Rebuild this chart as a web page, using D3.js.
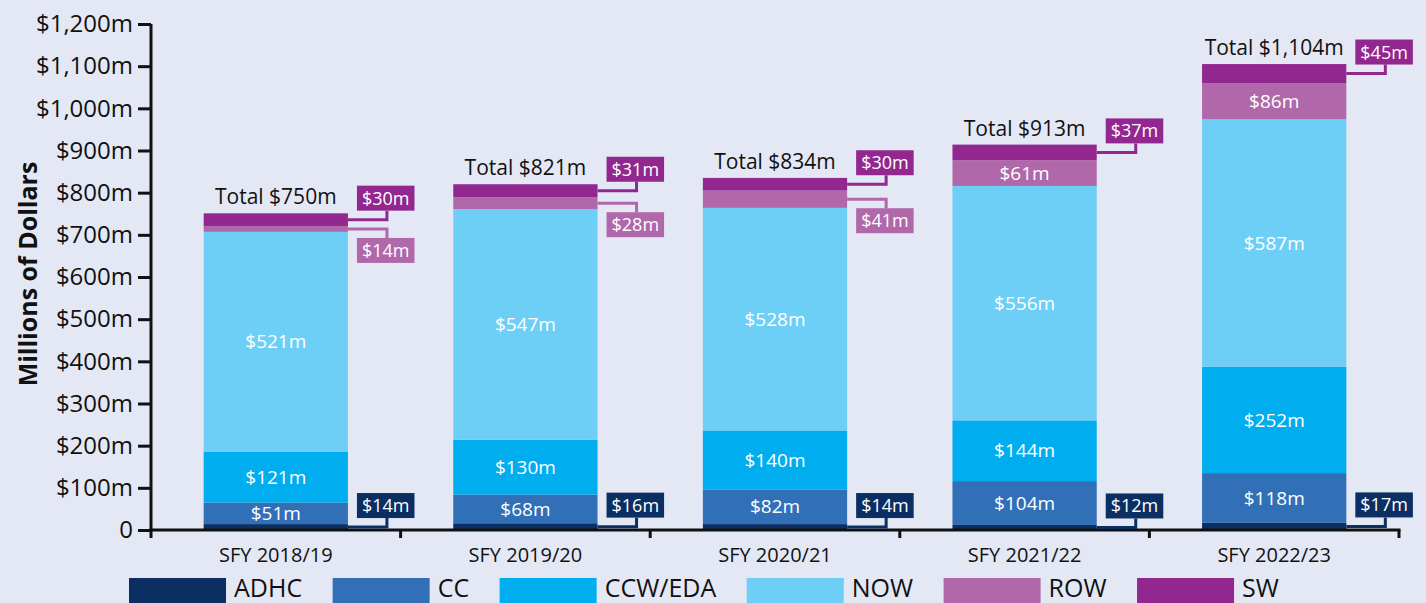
<!DOCTYPE html>
<html>
<head>
<meta charset="utf-8">
<script src="https://cdn.jsdelivr.net/npm/d3@7"></script>
<style>
  body { margin: 0; background: #e4e8f5; }
  svg { display: block; font-family: "Open Sans", "Noto Sans", sans-serif; }
</style>
</head>
<body>
<svg id="chart" width="1426" height="603"></svg>
<script>
// chart data ($ millions)
var years = ["SFY 2018/19", "SFY 2019/20", "SFY 2020/21", "SFY 2021/22", "SFY 2022/23"];
var seriesNames = ["ADHC", "CC", "CCW/EDA", "NOW", "ROW", "SW"];
var adhc = [14, 16, 14, 12, 17];
var cc = [51, 68, 82, 104, 118];
var ccw = [121, 130, 140, 144, 252];
var now = [521, 547, 528, 556, 587];
var row = [14, 28, 41, 61, 86];
var sw = [30, 31, 30, 37, 45];
var totals = [750, 821, 834, 913, 1104];
var yTicks = [0, 100, 200, 300, 400, 500, 600, 700, 800, 900, 1000, 1100, 1200];

var colors = ["#0b2e63", "#3170b7", "#00aeef", "#6dcff6", "#b168aa", "#92278f"];

// build the table for d3.stack
var table = years.map(function(y, i) {
    return {year: y, "ADHC": adhc[i], "CC": cc[i], "CCW/EDA": ccw[i], "NOW": now[i], "ROW": row[i], "SW": sw[i]};
});

var svg = d3.select("#chart");

var x = d3.scaleBand().domain(years).range([151, 1399]).paddingInner(0.422).paddingOuter(0.211);
var y = d3.scaleLinear().domain([0, 1200]).range([530, 24]);

var stacked = d3.stack().keys(seriesNames)(table);

function money(v) {
    return "$" + d3.format(",")(v) + "m";
}

//Bars
var layers = svg.append("g").selectAll("g")
    .data(stacked)
    .join("g")
    .attr("fill", function(d, i) { return colors[i]; });

layers.selectAll("rect")
    .data(function(d) { return d; })
    .join("rect")
    .attr("x", function(d) { return x(d.data.year); })
    .attr("width", x.bandwidth())
    .attr("y", function(d) { return y(d[1]); })
    .attr("height", function(d) { return y(d[0]) - y(d[1]); });

//Axes
var yAxis = svg.append("g")
    .attr("transform", "translate(151,0)")
    .call(d3.axisLeft(y).tickValues(yTicks).tickSize(13).tickPadding(5)
        .tickFormat(function(d) { return d === 0 ? "0" : money(d); }));
yAxis.select(".domain").attr("stroke", "#111").attr("stroke-width", 3).attr("d", "M0," + (y(0) + 1.5) + "V" + y(1200));
yAxis.selectAll(".tick line").attr("stroke", "#111").attr("stroke-width", 3);
yAxis.selectAll(".tick text").attr("font-size", 24).attr("fill", "#111").attr("font-family", "Open Sans");

var xTickPos = years.map(function(d) { return x(d) - x.step() * x.paddingInner() / 2; });
xTickPos.push(1399);

var xAxis = svg.append("g");
xAxis.append("line")
    .attr("x1", 149.5).attr("x2", 1400.5)
    .attr("y1", y(0)).attr("y2", y(0))
    .attr("stroke", "#111").attr("stroke-width", 3);
xAxis.selectAll("line.tk")
    .data(xTickPos)
    .join("line")
    .attr("class", "tk")
    .attr("x1", function(d) { return d; }).attr("x2", function(d) { return d; })
    .attr("y1", y(0)).attr("y2", y(0) + 8)
    .attr("stroke", "#111").attr("stroke-width", 3);
xAxis.selectAll("text")
    .data(years)
    .join("text")
    .attr("x", function(d) { return x(d) + x.bandwidth() / 2; })
    .attr("y", y(0) + 32)
    .attr("text-anchor", "middle")
    .attr("font-size", 20)
    .attr("fill", "#111")
    .text(function(d) { return d; });

//Axis title
svg.append("text")
    .attr("transform", "translate(37,274) rotate(-90)")
    .attr("text-anchor", "middle")
    .attr("font-size", 25)
    .attr("font-weight", "bold")
    .attr("fill", "#111")
    .text("Millions of Dollars");

//Totals above each bar
svg.append("g").selectAll("text")
    .data(years)
    .join("text")
    .attr("x", function(d) { return x(d) + x.bandwidth() / 2; })
    .attr("y", function(d, i) { return y(stacked[5][i][1]) - 9; })
    .attr("text-anchor", "middle")
    .attr("font-size", 21)
    .attr("fill", "#111")
    .text(function(d, i) { return "Total " + money(totals[i]); });

//Segment labels: inside the bar if it is big enough, else a callout box
var labels = svg.append("g");

stacked.forEach(function(layer, si) {
    layer.forEach(function(d, i) {
        var v = d[1] - d[0];
        var cy = y((d[0] + d[1]) / 2);
        var cx = x(d.data.year) + x.bandwidth() / 2;
        var name = seriesNames[si];

        if (v >= 50 && name !== "ADHC" && name !== "SW") {
            labels.append("text")
                .attr("x", cx)
                .attr("y", cy)
                .attr("dy", "0.35em")
                .attr("text-anchor", "middle")
                .attr("font-size", 19)
                .attr("fill", "#fff")
                .text(money(v));
            return;
        }

        var right = x(d.data.year) + x.bandwidth();
        var below = (name === "ROW");
        var boxH = 25;
        var boxY = below ? cy + 9 : cy - 9 - boxH;
        var g = labels.append("g");

        g.append("path")
            .attr("d", "M" + right + "," + cy + "H" + (right + 39) + "V" + (below ? boxY : boxY + boxH))
            .attr("fill", "none")
            .attr("stroke", colors[si])
            .attr("stroke-width", 3);

        var t = g.append("text")
            .attr("x", right + 9 + 5)
            .attr("y", boxY + boxH / 2)
            .attr("dy", "0.36em")
            .attr("font-size", 18)
            .attr("fill", "#fff")
            .text(money(v));
        var w = t.node().getComputedTextLength();

        g.insert("rect", "text")
            .attr("x", right + 9)
            .attr("y", boxY)
            .attr("width", w + 10)
            .attr("height", boxH)
            .attr("fill", colors[si]);
    });
});

//Legend
var legend = svg.append("g");
var lx = 129;
seriesNames.forEach(function(name, i) {
    legend.append("rect")
        .attr("x", lx).attr("y", 578)
        .attr("width", 97).attr("height", 27)
        .attr("fill", colors[i]);
    var t = legend.append("text")
        .attr("x", lx + 105)
        .attr("y", 597)
        .attr("font-size", 25)
        .attr("fill", "#111")
        .text(name);
    lx = lx + 105 + t.node().getComputedTextLength() + 30.5;
});
</script>
</body>
</html>
